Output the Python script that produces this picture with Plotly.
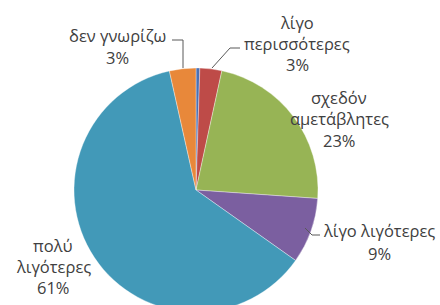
import plotly.graph_objects as go

# Data (clockwise from 12 o'clock)
categories = ["(χωρίς απάντηση)", "λίγο περισσότερες", "σχεδόν αμετάβλητες",
              "λίγο λιγότερες", "πολύ λιγότερες", "δεν γνωρίζω"]
values = [0.5, 2.9, 22.7, 8.7, 61.7, 3.5]
pct_labels = ["", "3%", "23%", "9%", "61%", "3%"]
colors = ["#4A70B3", "#BE4B48", "#97B455", "#7B5FA0", "#4299B8", "#E8883A"]

W, H = 440, 315

def px(x):
    return x / W

def py(y):
    return 1 - y / H

fig = go.Figure(go.Pie(
    labels=categories,
    values=values,
    sort=False,
    direction="clockwise",
    rotation=0,
    textinfo="none",
    hoverinfo="none",
    marker=dict(colors=colors, line=dict(color="rgba(255,255,255,0.6)", width=0.6)),
    domain=dict(x=[px(74), px(318)], y=[py(312), py(68)]),
    showlegend=False,
))

font = dict(family="Open Sans, DejaVu Sans, sans-serif", size=16.5, color="#404040")

# label texts: (lines, center x, first line y, line step)
label_specs = [
    (["δεν γνωρίζω", pct_labels[5]], 117, 35, 22),
    (["λίγο", "περισσότερες", pct_labels[1]], 297, 23, 21),
    (["σχεδόν", "αμετάβλητες", pct_labels[2]], 339, 97, 21.5),
    (["λίγο λιγότερες", pct_labels[3]], 379, 230, 23),
    (["πολύ", "λιγότερες", pct_labels[4]], 53, 245, 21),
]

annotations = []
for lines, cx, cy, dy in label_specs:
    for i, t in enumerate(lines):
        annotations.append(dict(
            text=t, x=px(cx), y=py(cy + i * dy), xref="paper", yref="paper",
            xanchor="center", yanchor="middle", showarrow=False, font=font,
        ))

def path(points):
    s = "M " + " L ".join(f"{px(x)},{py(y)}" for x, y in points)
    return dict(type="path", path=s, xref="paper", yref="paper",
                line=dict(color="#595959", width=1))

shapes = [
    path([(172, 40), (183, 40), (183, 68)]),
    path([(212, 68), (230, 48), (240, 48)]),
    path([(305, 228), (312, 235), (320, 235)]),
]

fig.update_layout(
    width=W, height=H,
    margin=dict(l=0, r=0, t=0, b=0),
    paper_bgcolor="white",
    plot_bgcolor="white",
    annotations=annotations,
    shapes=shapes,
)

fig.write_html(
    "out.html",
    config={"displayModeBar": False},
    post_script="document.body.style.margin='0';document.body.style.overflow='hidden';",
)
